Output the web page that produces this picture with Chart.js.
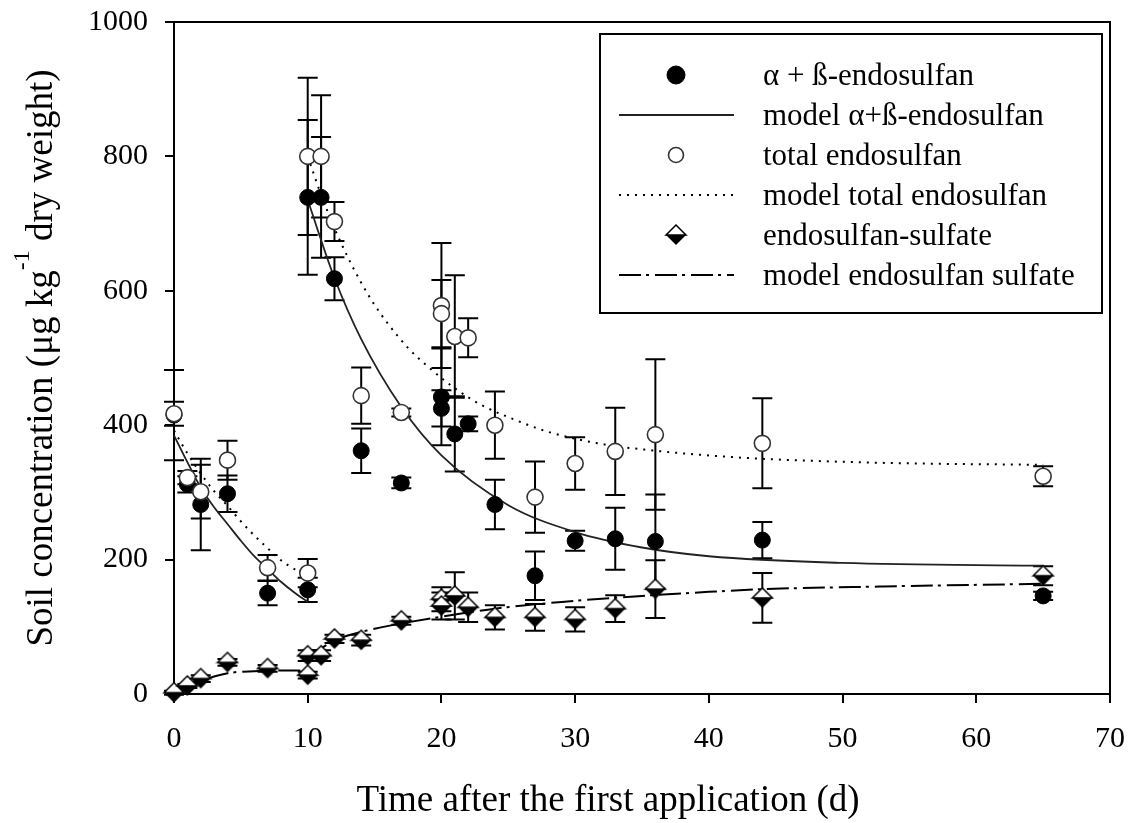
<!DOCTYPE html>
<html>
<head>
<meta charset="utf-8">
<title>Soil concentration of endosulfan</title>
<script src="https://cdn.jsdelivr.net/npm/chart.js@4.4.1/dist/chart.umd.min.js"></script>
<style>
  html, body { margin: 0; padding: 0; background: #fff; }
</style>
</head>
<body>
<canvas id="chart" width="1134" height="823"></canvas>
<script>
// sampling days (10 and 20 are there twice)
var days = [0, 1, 2, 4, 7, 10, 10, 11, 12, 14, 17, 20, 20, 21, 22, 24, 27, 30, 33, 36, 44, 65];

var abEndo = [415, 312, 282, 298, 150, 155, 739, 739, 618, 362, 314, 442, 425, 387, 402, 282, 176, 228, 231, 227, 229, 146];
var abErr = [67, 12, 68, 27, 18, 18, 115, 90, 32, 33, 8, 72, 27, 56, 11, 37, 36, 15, 46, 70, 27, 6];

var totalEndo = [417, 322, 301, 348, 188, 180, 800, 800, 703, 444, 419, 578, 566, 532, 530, 400, 293, 343, 361, 386, 373, 324];
var totalErr = [18, 10, 40, 29, 19, 21, 117, 91, 29, 42, 6, 93, 50, 91, 29, 50, 53, 39, 65, 112, 67, 15];

var sulfate = [2, 12, 23, 47, 38, 28, 57, 57, 82, 80, 109, 141, 131, 146, 129, 114, 114, 111, 127, 156, 143, 176];
var sulfateErr = [3, 3, 5, 5, 5, 5, 8, 8, 6, 8, 6, 18, 20, 35, 22, 18, 20, 18, 20, 43, 37, 14];

// model curves (two pieces: before and after day 10)
var abModelDays1 = [0, 1, 2, 3, 4, 5, 6, 7, 8, 9, 10];
var abModel1 = [385, 345, 307, 278, 253, 228, 205, 186, 167, 151, 137];
var abModelDays2 = [10, 12, 14, 17, 20, 25, 30, 35, 40, 50, 65];
var abModel2 = [735, 619, 528, 427, 355, 281, 241, 218, 205, 195, 191];

var totModelDays1 = [0, 1, 2, 3, 4, 5, 6, 7, 8, 9, 10];
var totModel1 = [392, 358, 328, 302, 280, 257, 236, 217, 199, 186, 176];
var totModelDays2 = [10, 11, 12, 13, 14, 15, 16, 17.5, 19, 21, 23, 25.5, 28, 32, 36, 40, 44, 53, 65];
var totModel2 = [800, 743, 693, 650, 612, 579, 551, 515, 487, 455, 430, 408, 390, 372, 362, 355, 350, 344, 341];

var sulModelDays1 = [0, 1, 2, 3, 4, 6, 8, 10];
var sulModel1 = [2, 12, 20, 26, 31, 34, 35, 35];
var sulModelDays2 = [10, 11, 12, 13, 15, 17, 20, 24, 29, 35, 40, 44, 53, 65];
var sulModel2 = [55, 68, 79, 87, 97, 105, 115, 127, 137, 146, 152, 156, 160, 164];

var xTicks = [0, 10, 20, 30, 40, 50, 60, 70];
var yTicks = [0, 200, 400, 600, 800, 1000];

var serif = "'Liberation Serif', 'Times New Roman', serif";

function xy(xs, ys) {
  return xs.map(function (x, i) { return { x: x, y: ys[i] }; });
}
function twoPieces(d1, v1, d2, v2) {
  return xy(d1, v1).concat([{ x: 10, y: null }], xy(d2, v2));
}

function diamondMarker() {
  var c = document.createElement("canvas");
  c.width = 24;
  c.height = 24;
  var g = c.getContext("2d");
  g.fillStyle = "#000";
  g.beginPath();
  g.moveTo(2, 12); g.lineTo(22, 12); g.lineTo(12, 22);
  g.closePath();
  g.fill();
  g.fillStyle = "#fff";
  g.strokeStyle = "#000";
  g.lineWidth = 1.5;
  g.beginPath();
  g.moveTo(2, 12); g.lineTo(12, 2); g.lineTo(22, 12);
  g.closePath();
  g.fill();
  g.stroke();
  return c;
}
var diamond = diamondMarker();

// vertical error bars with caps
var errorBars = {
  id: "errorBars",
  beforeDatasetsDraw: function (chart) {
    var ctx = chart.ctx, xs = chart.scales.x, ys = chart.scales.y;
    ctx.save();
    ctx.strokeStyle = "#000";
    ctx.lineWidth = 2;
    chart.data.datasets.forEach(function (ds) {
      if (!ds.errors) return;
      ds.data.forEach(function (p, i) {
        var e = ds.errors[i];
        if (!e) return;
        var x = xs.getPixelForValue(p.x);
        var y1 = ys.getPixelForValue(p.y + e);
        var y2 = ys.getPixelForValue(p.y - e);
        ctx.beginPath();
        ctx.moveTo(x, y1); ctx.lineTo(x, y2);
        ctx.moveTo(x - 10, y1); ctx.lineTo(x + 10, y1);
        ctx.moveTo(x - 10, y2); ctx.lineTo(x + 10, y2);
        ctx.stroke();
      });
    });
    ctx.restore();
  }
};

// top and right side of the frame
var frame = {
  id: "frame",
  beforeDatasetsDraw: function (chart) {
    var a = chart.chartArea, ctx = chart.ctx;
    ctx.save();
    ctx.strokeStyle = "#000";
    ctx.lineWidth = 2;
    ctx.beginPath();
    ctx.moveTo(a.left, a.top);
    ctx.lineTo(a.right, a.top);
    ctx.lineTo(a.right, a.bottom);
    ctx.stroke();
    ctx.restore();
  }
};

// axis titles (y title has a superscript)
var axisTitles = {
  id: "axisTitles",
  afterDraw: function (chart) {
    var ctx = chart.ctx, a = chart.chartArea;
    ctx.save();
    ctx.fillStyle = "#000";
    ctx.textBaseline = "alphabetic";

    ctx.font = "37px " + serif;
    ctx.textAlign = "center";
    ctx.fillText("Time after the first application (d)", 608, 811);

    var parts = [
      { t: "Soil concentration (\u03bcg kg", f: "37px " + serif, dy: 0 },
      { t: "-1", f: "24px " + serif, dy: -23 },
      { t: " dry weight)", f: "37px " + serif, dy: 0 }
    ];
    var total = 0;
    parts.forEach(function (p) { ctx.font = p.f; p.w = ctx.measureText(p.t).width; total += p.w; });
    ctx.translate(52, (a.top + a.bottom) / 2);
    ctx.rotate(-Math.PI / 2);
    ctx.textAlign = "left";
    var x = -total / 2;
    parts.forEach(function (p) {
      ctx.font = p.f;
      ctx.fillText(p.t, x, p.dy);
      x += p.w;
    });
    ctx.restore();
  }
};

// boxed legend, symbols left and labels right
var boxLegend = {
  id: "boxLegend",
  afterDraw: function (chart) {
    var ctx = chart.ctx;
    var left = 600, top = 34, right = 1102, bottom = 313;
    ctx.save();
    ctx.fillStyle = "#fff";
    ctx.fillRect(left, top, right - left, bottom - top);
    ctx.strokeStyle = "#000";
    ctx.lineWidth = 2;
    ctx.strokeRect(left, top, right - left, bottom - top);

    chart.data.datasets.forEach(function (ds, i) {
      var base = 85 + 40 * i, sy = base - 10, sx = 676;
      ctx.save();
      if (ds.showLine) {
        ctx.strokeStyle = ds.borderColor;
        ctx.lineWidth = ds.borderWidth;
        ctx.setLineDash(ds.borderDash || []);
        ctx.beginPath();
        ctx.moveTo(619, sy);
        ctx.lineTo(734, sy);
        ctx.stroke();
      } else if (ds.pointStyle === diamond) {
        ctx.drawImage(diamond, sx - 12, sy - 12);
      } else {
        ctx.fillStyle = ds.backgroundColor;
        ctx.strokeStyle = ds.borderColor;
        ctx.lineWidth = ds.borderWidth;
        ctx.beginPath();
        ctx.arc(sx, sy, ds.backgroundColor === "#000" ? 9 : 7.5, 0, Math.PI * 2);
        ctx.fill();
        ctx.stroke();
      }
      ctx.restore();
      ctx.fillStyle = "#000";
      ctx.font = "31px " + serif;
      ctx.textAlign = "left";
      ctx.textBaseline = "alphabetic";
      ctx.fillText(ds.label, 763, base);
    });
    ctx.restore();
  }
};

// keep tick labels from pushing the plot area inwards
function noOverhang(scale) {
  scale.paddingTop = 0;
  scale.paddingBottom = 0;
  scale.paddingLeft = 0;
  scale.paddingRight = 0;
}

Chart.defaults.font.family = serif;
Chart.defaults.color = "#000";

new Chart(document.getElementById("chart"), {
  type: "scatter",
  data: {
    datasets: [
      {
        label: "\u03b1 + \u00df-endosulfan",
        data: xy(days, abEndo),
        errors: abErr,
        pointStyle: "circle",
        pointRadius: 8,
        backgroundColor: "#000",
        borderColor: "#000",
        borderWidth: 1,
        clip: false,
        order: 2
      },
      {
        label: "model \u03b1+\u00df-endosulfan",
        data: twoPieces(abModelDays1, abModel1, abModelDays2, abModel2),
        showLine: true,
        spanGaps: false,
        cubicInterpolationMode: "monotone",
        pointRadius: 0,
        borderColor: "#222",
        borderWidth: 1.8,
        clip: false,
        order: 5
      },
      {
        label: "total endosulfan",
        data: xy(days, totalEndo),
        errors: totalErr,
        pointStyle: "circle",
        pointRadius: 8,
        backgroundColor: "#fff",
        borderColor: "#333",
        borderWidth: 1.6,
        clip: false,
        order: 1
      },
      {
        label: "model total endosulfan",
        data: twoPieces(totModelDays1, totModel1, totModelDays2, totModel2),
        showLine: true,
        spanGaps: false,
        cubicInterpolationMode: "monotone",
        pointRadius: 0,
        borderColor: "#000",
        borderWidth: 2,
        borderDash: [2, 6],
        clip: false,
        order: 5
      },
      {
        label: "endosulfan-sulfate",
        data: xy(days, sulfate),
        errors: sulfateErr,
        pointStyle: diamond,
        pointRadius: 10,
        backgroundColor: "#000",
        borderColor: "#000",
        clip: false,
        order: 0
      },
      {
        label: "model endosulfan sulfate",
        data: twoPieces(sulModelDays1, sulModel1, sulModelDays2, sulModel2),
        showLine: true,
        spanGaps: false,
        cubicInterpolationMode: "monotone",
        pointRadius: 0,
        borderColor: "#000",
        borderWidth: 2,
        borderDash: [22, 5, 3, 6],
        clip: false,
        order: 5
      }
    ]
  },
  options: {
    responsive: false,
    animation: false,
    devicePixelRatio: 1,
    events: [],
    layout: { padding: { left: 0, top: 22, right: 24, bottom: 0 } },
    plugins: {
      legend: { display: false },
      tooltip: { enabled: false }
    },
    scales: {
      x: {
        type: "linear",
        min: 0,
        max: 70,
        afterBuildTicks: function (scale) {
          scale.ticks = xTicks.map(function (v) { return { value: v }; });
        },
        afterFit: function (scale) { scale.height = 129; noOverhang(scale); },
        ticks: {
          font: { size: 30 },
          padding: 18,
          maxRotation: 0,
          color: "#000",
          callback: function (v) { return String(v); }
        },
        grid: { drawOnChartArea: false, drawTicks: true, tickLength: 9, color: "#000", lineWidth: 2 },
        border: { display: true, color: "#000", width: 2 }
      },
      y: {
        type: "linear",
        min: 0,
        max: 1000,
        afterBuildTicks: function (scale) {
          scale.ticks = yTicks.map(function (v) { return { value: v }; });
        },
        afterFit: function (scale) { scale.width = 174; noOverhang(scale); },
        ticks: {
          font: { size: 30 },
          padding: 17,
          color: "#000",
          callback: function (v) { return String(v); }
        },
        grid: { drawOnChartArea: false, drawTicks: true, tickLength: 9, color: "#000", lineWidth: 2 },
        border: { display: true, color: "#000", width: 2 }
      }
    }
  },
  plugins: [frame, errorBars, axisTitles, boxLegend]
});
</script>
</body>
</html>
